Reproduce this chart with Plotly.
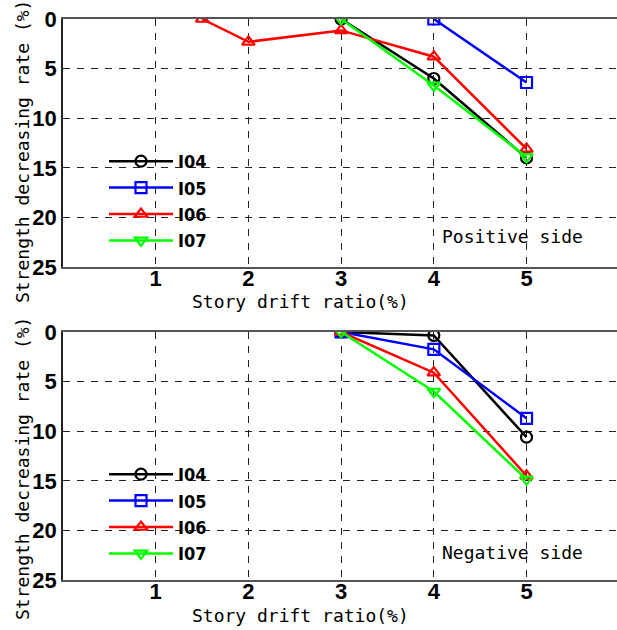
import plotly.graph_objects as go

# ---------------- data ----------------
series_names = ["I04", "I05", "I06", "I07"]
series_colors = ["#000000", "#0000FF", "#FF0000", "#00FF00"]
series_symbols = ["circle-open", "square-open", "triangle-up-open", "triangle-down-open"]

# Positive side
pos_I04_x = [3, 4, 5]
pos_I04_y = [0.0, 6.0, 14.0]
pos_I05_x = [4, 5]
pos_I05_y = [0.0, 6.4]
pos_I06_x = [1.5, 2, 3, 4, 5]
pos_I06_y = [0.0, 2.3, 1.15, 3.8, 13.1]
pos_I07_x = [3, 4, 5]
pos_I07_y = [0.0, 6.7, 13.9]

# Negative side
neg_I04_x = [3, 4, 5]
neg_I04_y = [0.0, 0.35, 10.6]
neg_I05_x = [3, 4, 5]
neg_I05_y = [0.0, 1.75, 8.7]
neg_I06_x = [3, 4, 5]
neg_I06_y = [0.0, 4.1, 14.5]
neg_I07_x = [3, 4, 5]
neg_I07_y = [0.0, 6.0, 14.85]

x_tick_vals = [1, 2, 3, 4, 5]
y_tick_vals = [0, 5, 10, 15, 20, 25]
x_title = "Story drift ratio(%)"
y_title = "Strength decreasing rate (%)"
panel_labels = ["Positive side", "Negative side"]

pos_data = [(pos_I04_x, pos_I04_y), (pos_I05_x, pos_I05_y), (pos_I06_x, pos_I06_y), (pos_I07_x, pos_I07_y)]
neg_data = [(neg_I04_x, neg_I04_y), (neg_I05_x, neg_I05_y), (neg_I06_x, neg_I06_y), (neg_I07_x, neg_I07_y)]

# ---------------- figure ----------------
fig = go.Figure()

for panel, (data, xa, ya, lg) in enumerate([(pos_data, "x", "y", "legend"), (neg_data, "x2", "y2", "legend2")]):
    for name, color, sym, (xs, ys) in zip(series_names, series_colors, series_symbols, data):
        fig.add_trace(go.Scatter(
            x=xs, y=ys, name=name, mode="lines+markers",
            xaxis=xa, yaxis=ya, legend=lg,
            line=dict(color=color, width=2.5),
            marker=dict(symbol=sym, size=11, color=color, line=dict(color=color, width=2.2)),
        ))

W, H = 617, 630
ML, MR, MT, MB = 63, 0, 19, 50
PW = W - ML - MR
PH = H - MT - MB

def py(pix):
    return (H - MB - pix) / PH

def px(pix):
    return (pix - ML) / PW

xrange = [0, 5.976]
tick_font = dict(family="Liberation Sans, Arial, sans-serif", size=22, color="#000000", weight="bold")
text_font = dict(family="DejaVu Sans Mono, monospace", size=18, color="#000000")

def xaxis_cfg(anchor):
    return dict(
        range=xrange, anchor=anchor, tickvals=x_tick_vals, ticks="",
        tickfont=tick_font, ticklabelstandoff=-9,
        showline=True, mirror=True, linecolor="#555555", linewidth=1.5,
        showgrid=True, gridcolor="#222222", gridwidth=1, griddash="7px,7px",
        zeroline=False, fixedrange=True,
    )

def yaxis_cfg(anchor, dom):
    return dict(
        range=[25, 0], anchor=anchor, domain=dom, tickvals=y_tick_vals, ticks="",
        tickfont=tick_font, showline=True, mirror=False, linecolor="#222222", linewidth=1.5,
        showgrid=True, gridcolor="#222222", gridwidth=1, griddash="7px,7px",
        zeroline=False, fixedrange=True,
    )

top_dom = [py(267), 1.0]
bot_dom = [0.0, py(332)]

legend_common = dict(
    font=dict(family="DejaVu Sans Condensed, DejaVu Sans, sans-serif", size=18, color="#000000", weight="bold"),
    bgcolor="rgba(0,0,0,0)", borderwidth=0, itemwidth=64, tracegroupgap=0,
    xanchor="left", yanchor="top", itemclick=False, itemdoubleclick=False,
)

annotations = []
for label, ycenter_title, ycenter_x, ycenter_lbl in [
    (panel_labels[0], 152, 302, 237),
    (panel_labels[1], 469, 615, 552),
]:
    annotations.append(dict(text=y_title, xref="paper", yref="paper", x=px(22), y=py(ycenter_title),
                            xanchor="center", yanchor="middle", textangle=-90, showarrow=False, font=text_font))
    annotations.append(dict(text=x_title, xref="paper", yref="paper", x=px(300), y=py(ycenter_x),
                            xanchor="center", yanchor="middle", showarrow=False, font=text_font))
    annotations.append(dict(text=label, xref="paper", yref="paper", x=px(440), y=py(ycenter_lbl),
                            xanchor="left", yanchor="middle", showarrow=False, font=text_font))

fig.update_layout(
    width=W, height=H,
    margin=dict(l=ML, r=MR, t=MT, b=MB, pad=0),
    paper_bgcolor="white", plot_bgcolor="white",
    xaxis=xaxis_cfg("y"), yaxis=yaxis_cfg("x", top_dom),
    xaxis2=xaxis_cfg("y2"), yaxis2=yaxis_cfg("x2", bot_dom),
    legend=dict(x=px(104), y=py(143), **legend_common),
    legend2=dict(x=px(104), y=py(456), **legend_common),
    annotations=annotations,
    showlegend=True,
)

fig.write_html("out.html", config={"displayModeBar": False})
